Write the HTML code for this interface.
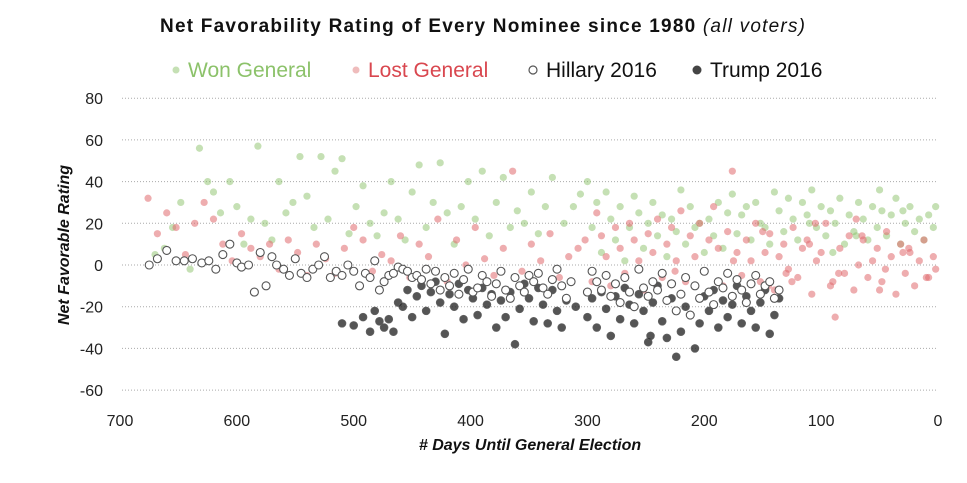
<!DOCTYPE html>
<html><head><meta charset="utf-8"><style>
html,body{margin:0;padding:0;background:#fff;}
svg{display:block;font-family:"Liberation Sans",sans-serif;}
</style></head><body>
<svg id="chart" width="967" height="483" viewBox="0 0 967 483">
<text x="160" y="32" font-size="19" font-weight="bold" fill="#111" textLength="645" lengthAdjust="spacing">Net Favorability Rating of Every Nominee since 1980 <tspan font-weight="normal" font-style="italic">(all voters)</tspan></text>
<g font-size="21">
 <g><circle cx="176" cy="70" r="3.5" fill="#8cc26a" opacity="0.5"/><text x="188" y="77" fill="#8cc26a">Won General</text></g>
 <g><circle cx="356" cy="70" r="3.5" fill="#e07a7a" opacity="0.5"/><text x="368" y="77" fill="#d9474f">Lost General</text></g>
 <g><circle cx="533" cy="70" r="4" fill="#fff" stroke="#555" stroke-width="1.2"/><text x="546" y="77" fill="#111">Hillary 2016</text></g>
 <g><circle cx="697" cy="70" r="4.5" fill="#444"/><text x="710" y="77" fill="#111">Trump 2016</text></g>
</g>
<g id="grid"></g>
<g id="yticks"></g>
<g id="xticks"></g>
<g id="marks"></g>
<text transform="translate(69,245) rotate(-90)" text-anchor="middle" font-size="16" font-weight="bold" font-style="italic" fill="#111">Net Favorable Rating</text>
<text x="530" y="450" text-anchor="middle" font-size="16" font-weight="bold" font-style="italic" fill="#111"># Days Until General Election</text>
</svg>
<script>
const yTicks=[80,60,40,20,0,-20,-40,-60];
const xTicks=[700,600,500,400,300,200,100,0];
const hDays=[675,668,660,652,645,638,630,624,618,612,606,600,596,590,585,580,575,570,566,560,555,550,545,540,535,530,525,520,515,510,505,500,495,490,486,482,478,474,470,466,462,458,454,450,446,442,438,434,430,426,422,418,414,410,406,402,398,394,390,386,382,378,374,370,366,362,358,354,350,346,342,338,334,330,326,322,318,314,300,296,292,288,284,280,276,272,268,264,260,256,252,248,244,240,236,232,228,224,220,216,212,208,204,200,196,192,188,184,180,176,172,168,164,160,156,152,148,144,140,136];
const hVals=[0,3,7,2,2,3,1,2,-2,5,10,1,-1,0,-13,6,-10,4,0,-2,-5,3,-4,-6,-2,0,4,-6,-3,-5,0,-3,-10,-4,-6,2,-12,-8,-5,-4,-1,-2,-3,-6,-5,-7,-2,-9,-3,-12,-6,-10,-4,-14,-7,-2,-13,-11,-5,-8,-15,-9,-3,-12,-16,-6,-10,-13,-5,-8,-4,-11,-14,-7,-2,-10,-16,-8,-13,-3,-8,-12,-5,-15,-9,-18,-6,-13,-20,-2,-11,-15,-8,-12,-4,-17,-9,-22,-14,-6,-24,-10,-16,-3,-13,-19,-8,-11,-4,-15,-7,-12,-18,-9,-5,-14,-10,-8,-16,-12];
const tDays=[510,500,492,486,482,478,474,470,466,462,458,454,450,446,442,438,434,430,426,422,418,414,410,406,402,398,394,390,386,382,378,374,370,366,362,358,354,350,346,342,338,334,330,326,322,318,310,300,296,292,288,284,280,276,272,268,264,260,256,252,248,244,240,236,232,228,224,220,216,212,208,204,200,196,192,188,184,180,176,172,168,164,160,156,152,148,144,140,136,246];
const tVals=[-28,-29,-25,-32,-22,-27,-30,-26,-32,-18,-20,-12,-25,-15,-10,-22,-13,-8,-18,-33,-14,-20,-9,-26,-12,-16,-24,-11,-19,-14,-30,-17,-25,-13,-38,-21,-9,-16,-27,-11,-19,-28,-12,-22,-30,-17,-20,-25,-16,-30,-13,-21,-34,-15,-26,-11,-19,-28,-14,-22,-37,-18,-10,-27,-35,-16,-44,-32,-20,-24,-40,-28,-15,-22,-12,-30,-17,-25,-19,-10,-28,-15,-22,-30,-18,-12,-33,-24,-16,-34];
const wDays=[670,662,655,648,640,632,625,620,614,606,600,594,588,582,576,570,564,558,552,546,540,534,528,522,516,510,504,498,492,486,480,474,468,462,456,450,444,438,432,426,420,414,408,402,396,390,384,378,372,366,360,354,348,342,336,330,320,312,306,300,296,292,288,284,280,276,272,268,264,260,256,252,248,244,240,236,232,228,224,220,216,212,208,204,200,196,192,188,184,180,176,172,168,164,160,156,152,148,144,140,136,132,128,124,120,116,112,108,104,100,96,92,88,84,80,76,72,68,64,60,56,52,48,44,40,36,32,28,24,20,16,12,8,4,2,110,90,70,50,30];
const wVals=[5,8,18,30,-2,56,40,35,25,40,28,10,22,57,20,12,40,25,30,52,33,18,52,22,45,51,15,28,38,20,14,25,40,22,12,35,48,18,30,49,25,10,28,40,22,45,14,30,42,18,26,20,35,15,28,42,20,28,34,40,18,30,6,35,22,12,28,2,18,33,25,8,20,30,14,24,4,22,16,36,10,28,18,20,6,22,14,30,8,25,34,15,24,28,12,30,20,18,10,35,26,16,32,22,12,30,24,36,18,28,14,26,20,32,10,24,16,30,22,12,28,18,26,14,24,32,10,20,28,16,22,12,24,18,28,20,6,14,36,26];
const lDays=[676,668,660,652,644,636,628,620,612,604,596,588,580,572,564,556,548,540,532,524,516,508,500,492,484,476,468,460,452,444,436,428,420,412,404,396,388,380,372,364,356,348,340,332,324,316,308,302,296,292,288,284,280,276,272,268,264,260,256,252,248,244,240,236,232,228,224,220,216,212,208,204,200,196,192,188,184,180,176,172,168,164,160,156,152,148,144,140,136,132,128,124,120,116,112,108,104,100,96,92,88,84,80,76,72,68,64,60,56,52,48,44,40,36,32,28,24,20,16,12,8,4,2,150,130,110,90,70,50,30,10,25,45,65,85,105,125,145,175,225];
const lVals=[32,15,25,18,5,20,30,22,10,2,15,8,4,10,-2,12,6,-5,10,3,-4,8,18,12,-3,5,2,14,-6,10,4,22,-8,12,0,18,3,-5,8,45,-3,10,2,15,-6,4,8,12,-8,25,14,4,-10,18,8,-4,20,12,2,-12,15,6,22,-6,10,18,2,26,-8,14,4,20,-3,12,28,8,-10,16,45,6,-5,12,2,20,-8,6,15,-12,4,10,-2,18,-6,8,12,-14,2,6,20,-10,-25,8,-4,14,-12,0,12,-6,2,8,-8,16,4,-14,10,-4,6,-10,2,12,-6,4,-2,16,-4,10,-8,22,-12,6,-6,8,-2,14,-4,20,-8,-10,2,-3];

const NS="http://www.w3.org/2000/svg";
function xs(d){return 938-d*(818/700);}
function ys(v){return 265-v*2.085;}
function mk(tag,attrs,parent){const e=document.createElementNS(NS,tag);for(const k in attrs)e.setAttribute(k,attrs[k]);parent.appendChild(e);return e;}
const grid=document.getElementById('grid'),yt=document.getElementById('yticks'),xt=document.getElementById('xticks'),marks=document.getElementById('marks');
yTicks.forEach(v=>{
 const l=mk('line',{x1:122,x2:938,y1:ys(v),y2:ys(v),stroke:'#aaa','stroke-width':1,'stroke-dasharray':'1,2'},grid);
 
 
 const t=mk('text',{x:103,y:ys(v)+6,'text-anchor':'end','font-size':16,fill:'#222'},yt);
 t.textContent=v;
 
 
});
xTicks.forEach(d=>{
 const t=mk('text',{x:xs(d),y:426,'text-anchor':'middle','font-size':16,fill:'#222'},xt);
 t.textContent=d;
 
 
});
function series(days,vals,style,name){
 const g=mk('g',{},marks);
 
 
 days.forEach((d,i)=>{
  if(vals[i]===undefined)return;
  const c=mk('circle',Object.assign({cx:xs(d),cy:ys(vals[i])},style),g);
  
  
 });
}
series(wDays,wVals,{r:3.6,fill:'#8cc26a','fill-opacity':0.5},'won-general');
series(lDays,lVals,{r:3.6,fill:'#e06a6e','fill-opacity':0.55},'lost-general');
series(tDays,tVals,{r:4,fill:'#2a2a2a','fill-opacity':0.8,stroke:'#666','stroke-width':0.6},'trump-2016');
series(hDays,hVals,{r:4,fill:'#fff',stroke:'#555','stroke-width':1.1},'hillary-2016');
</script>
</body></html>
